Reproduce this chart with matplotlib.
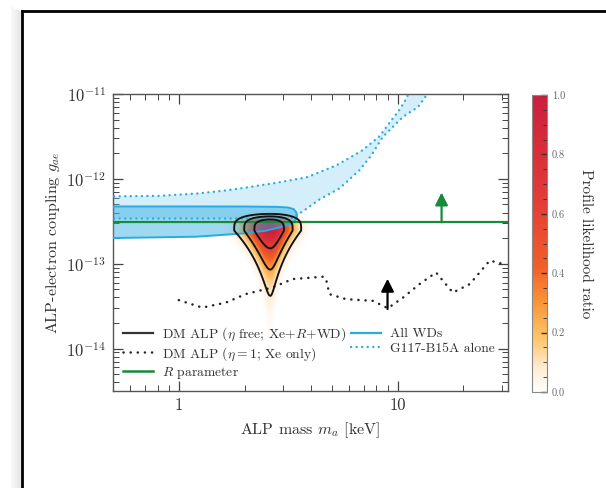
import numpy as np
import matplotlib
matplotlib.use('Agg')
import matplotlib.pyplot as plt
from matplotlib.colors import LinearSegmentedColormap, Normalize
from matplotlib.lines import Line2D
from matplotlib.cm import ScalarMappable
import matplotlib.ticker as mticker

plt.rcParams['font.family'] = ['cmr10', 'DejaVu Serif']
plt.rcParams['mathtext.fontset'] = 'cm'
plt.rcParams['axes.unicode_minus'] = False
plt.rcParams['axes.formatter.use_mathtext'] = True

# ---------------- data ----------------
# All WDs allowed band (closed outline: upper edge -> cap -> lower edge)
allwd_mass = [0.45, 1.0, 2.0, 2.8, 3.15, 3.35, 3.45, 3.47, 3.4, 3.25, 3.0, 2.5, 2.0, 1.2, 0.45]
allwd_g = [4.73e-13, 4.73e-13, 4.72e-13, 4.68e-13, 4.6e-13, 4.4e-13, 4.0e-13, 3.6e-13,
           3.2e-13, 2.95e-13, 2.75e-13, 2.45e-13, 2.28e-13, 2.08e-13, 2.0e-13]

# G117-B15A alone band
g117_up_mass = [0.45, 0.8, 1.2, 1.64, 2.03, 2.8, 3.83, 5.25, 6.91, 8.3, 9.16, 10.2, 11.0, 11.5]
g117_up_g = [6.2e-13, 6.3e-13, 6.7e-13, 7.3e-13, 7.9e-13, 9.0e-13, 1.04e-12, 1.44e-12,
             2.17e-12, 3.2e-12, 4.54e-12, 6.5e-12, 8.97e-12, 1.2e-11]
g117_lo_mass = [0.45, 1.0, 2.0, 3.0, 3.3, 3.74, 4.39, 5.42, 6.69, 7.6, 8.54, 10.6, 12.4, 13.7, 14.3]
g117_lo_g = [3.41e-13, 3.41e-13, 3.41e-13, 3.41e-13, 3.45e-13, 4.24e-13, 5.7e-13, 7.7e-13,
             1.26e-12, 1.9e-12, 3.1e-12, 5.4e-12, 7.0e-12, 1.0e-11, 1.2e-11]

# R parameter lower bound
r_bound_g = 3.08e-13
r_arrow_mass = 15.9
r_arrow_tip_g = 6.9e-13

# DM ALP (eta = 1; Xe only)
xe_mass = [1.0, 1.28, 1.64, 2.02, 2.68, 3.31, 4.54, 4.70, 4.88, 5.82, 7.71, 9.03,
           10.6, 12.6, 15.0, 17.9, 21.4, 26.4, 30.4]
xe_g = [3.72e-14, 3.04e-14, 3.48e-14, 4.38e-14, 5.25e-14, 6.59e-14, 7.02e-14, 6.78e-14,
        4.38e-14, 3.82e-14, 3.65e-14, 2.99e-14, 3.99e-14, 5.75e-14, 7.88e-14, 4.57e-14,
        5.75e-14, 1.09e-13, 9.9e-14]
xe_arrow_mass = 9.0
xe_arrow_base_g = 2.93e-14
xe_arrow_tip_g = 6.64e-14

# DM ALP (eta free) profile-likelihood: peak and shape parameters (log10 space)
peak_mass = 2.62
peak_g = 2.46e-13
width_mass_left = 0.048
width_mass_right = 0.041
width_shrink = 1.75
scale_up, power_up = 0.106, 4.0
scale_down, power_down = 0.1084, 1.26
chi2_levels = [2.30, 6.18, 11.83]
display_softening = 4.6

cbar_ticks = [0.0, 0.2, 0.4, 0.6, 0.8, 1.0]
x_major = [1, 10]
x_major_labels = ['1', '10']
y_major = [1e-14, 1e-13, 1e-12, 1e-11]

# ---------------- figure ----------------
W, H = 606, 488
fig = plt.figure(figsize=(W / 100, H / 100), dpi=100)
ax = fig.add_axes([113 / W, 1 - 391 / H, 395 / W, 297 / H])

blue = '#29abe2'
green = '#178a3c'

# likelihood field
u = np.linspace(0.0, 0.85, 340)
v = np.linspace(-14.2, -12.15, 340)
U, V = np.meshgrid(u, v)
du = U - np.log10(peak_mass)
dv = V - np.log10(peak_g)
sx = np.where(du < 0, width_mass_left, width_mass_right) * np.exp(width_shrink * np.minimum(dv, 0))
vert = np.where(dv > 0, (np.abs(dv) / scale_up) ** power_up, (np.abs(dv) / scale_down) ** power_down)
chi2 = (du / sx) ** 2 + vert
img = np.exp(-chi2 / display_softening)

cmap = LinearSegmentedColormap.from_list('plr', [
    (0.0, '#ffffff'), (0.08, '#feecd2'), (0.18, '#fdc46a'), (0.3, '#f9953a'),
    (0.42, '#f15f2a'), (0.65, '#e23c37'), (1.0, '#cb1f3e')])
norm = Normalize(0, 1)

ax.pcolormesh(10 ** U, 10 ** V, img, cmap=cmap, norm=norm, shading='gouraud',
              rasterized=True, zorder=1)

# G117-B15A band
poly_m = g117_up_mass + g117_lo_mass[::-1]
poly_g = g117_up_g + g117_lo_g[::-1]
dot = (0, (0.05, 2.3))
ax.fill(poly_m, poly_g, color='#7ccdf0', alpha=0.32, lw=0, zorder=2)
ax.plot(g117_up_mass, g117_up_g, color=blue, lw=1.7, ls=dot, dash_capstyle='round', zorder=4)
ax.plot(g117_lo_mass, g117_lo_g, color=blue, lw=1.7, ls=dot, dash_capstyle='round', zorder=4)

# All WDs band
ax.fill(allwd_mass, allwd_g, color=blue, alpha=0.45, lw=0, zorder=3)
ax.plot(allwd_mass, allwd_g, color=blue, lw=1.4, zorder=4)

# R parameter
ax.axhline(r_bound_g, color=green, lw=1.6, zorder=5)
ax.annotate('', xy=(r_arrow_mass, r_arrow_tip_g), xytext=(r_arrow_mass, r_bound_g),
            arrowprops=dict(arrowstyle='-|>,head_length=0.75,head_width=0.38', color=green,
                            lw=1.6, shrinkA=0, shrinkB=0, mutation_scale=10), zorder=6)

# Xe only
xdot = (0, (0.05, 2.8))
ax.plot(xe_mass, xe_g, color='#222222', lw=1.8, ls=xdot, dash_capstyle='round', zorder=5)
ax.annotate('', xy=(xe_arrow_mass, xe_arrow_tip_g), xytext=(xe_arrow_mass, xe_arrow_base_g),
            arrowprops=dict(arrowstyle='-|>,head_length=0.75,head_width=0.38', color='k',
                            lw=1.6, shrinkA=0, shrinkB=0, mutation_scale=10), zorder=6)

# contours
ax.contour(10 ** U, 10 ** V, chi2, levels=chi2_levels, colors='#111111', linewidths=1.35, zorder=7)

ax.set_xscale('log')
ax.set_yscale('log')
ax.set_xlim(0.5, 32)
ax.set_ylim(10 ** -14.5, 1e-11)

x_minor = [m * 10.0 ** e for e in (-1, 0, 1) for m in range(2, 10)]
y_minor = [m * 10.0 ** e for e in (-15, -14, -13, -12) for m in range(2, 10)]
ax.xaxis.set_major_locator(mticker.FixedLocator(x_major))
ax.xaxis.set_major_formatter(mticker.FixedFormatter(x_major_labels))
ax.xaxis.set_minor_locator(mticker.FixedLocator(x_minor))
ax.xaxis.set_minor_formatter(mticker.NullFormatter())
ax.yaxis.set_major_locator(mticker.FixedLocator(y_major))
ax.yaxis.set_major_formatter(mticker.LogFormatterSciNotation())
ax.yaxis.set_minor_locator(mticker.FixedLocator(y_minor))
ax.yaxis.set_minor_formatter(mticker.NullFormatter())

ax.tick_params(which='both', direction='in', top=True, right=True, color='#444444',
               labelcolor='#333333', labelsize=12)
ax.tick_params(which='major', length=7, width=0.9, pad=5)
ax.tick_params(which='minor', length=4, width=0.7)
for s in ax.spines.values():
    s.set_color('#555555')
    s.set_linewidth(1.0)

ax.set_xlabel('ALP mass $m_a$ [keV]', fontsize=11.5, color='#333333', labelpad=5)
ax.set_ylabel('ALP-electron coupling $g_{ae}$', fontsize=11.5, color='#333333', labelpad=3)

handles = [
    Line2D([], [], color='#333333', lw=1.6),
    Line2D([], [], color='#222222', lw=1.8, ls=xdot, dash_capstyle='round'),
    Line2D([], [], color=green, lw=1.8),
    Line2D([], [], color=blue, lw=1.6),
    Line2D([], [], color=blue, lw=1.7, ls=dot, dash_capstyle='round'),
]
labels = [r'DM ALP ($\eta$ free; Xe+$R$+WD)', r'DM ALP ($\eta=1$; Xe only)', r'$R$ parameter',
          'All WDs', 'G117-B15A alone']
leg = ax.legend(handles, labels, ncol=2, loc='lower left', bbox_to_anchor=(0.025, 0.035),
                frameon=False, fontsize=9.8, handlelength=2.2, handletextpad=0.65,
                columnspacing=0.4, labelspacing=0.15, borderpad=0, borderaxespad=0)
for t in leg.get_texts():
    t.set_color('#333333')

# colorbar
cax = fig.add_axes([532 / W, 1 - 392 / H, 15 / W, 297 / H])
cb = fig.colorbar(ScalarMappable(norm=norm, cmap=cmap), cax=cax)
cb.set_ticks(cbar_ticks)
cb.set_ticklabels([f'{t:.1f}' for t in cbar_ticks])
cax.yaxis.set_minor_locator(mticker.MultipleLocator(0.05))
cax.tick_params(which='both', direction='in', color='#333333', labelcolor='#666666', labelsize=7.5)
cax.tick_params(which='major', length=4, width=1.0)
cax.tick_params(which='minor', length=3, width=0.6)
cb.outline.set_edgecolor('#888888')
cb.outline.set_linewidth(0.8)
cb.set_label('Profile likelihood ratio', rotation=270, fontsize=11, color='#333333', labelpad=20)

# page frame (top and left) with soft shadow
for i, a in enumerate([0.03, 0.045, 0.06, 0.075, 0.09]):
    x = (12 + 2 * i) / W
    fig.add_artist(Line2D([x, x], [0, 1 - (8 + i) / H], transform=fig.transFigure,
                          color='k', alpha=a, lw=1.5))
fig.add_artist(Line2D([22 / W, 1], [1 - 11 / H, 1 - 11 / H], transform=fig.transFigure,
                      color='k', lw=2))
fig.add_artist(Line2D([22 / W, 22 / W], [0, 1 - 11 / H], transform=fig.transFigure,
                      color='k', lw=2))

fig.savefig('out.png', dpi=100)
